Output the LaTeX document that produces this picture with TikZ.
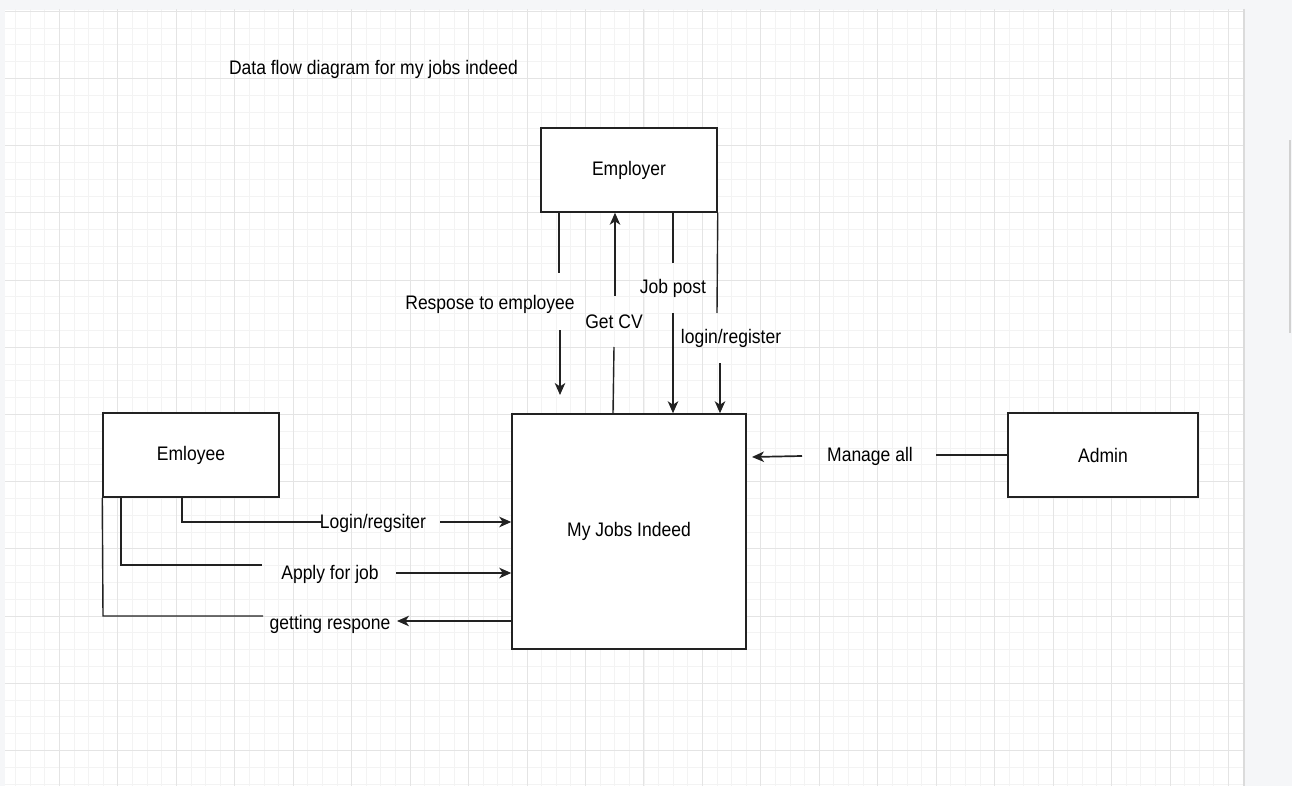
\documentclass[tikz,border=0pt]{standalone}
\usepackage{fontspec}
\setmainfont{Liberation Sans}
\usepackage{graphicx}
\usetikzlibrary{arrows.meta,calc}
\definecolor{gminor}{HTML}{F3F3F3}
\definecolor{gmajor}{HTML}{E4E4E4}
\definecolor{panel}{HTML}{F5F6F8}
\definecolor{ink}{HTML}{222222}
\newcommand\mytxt[1]{\scalebox{1}[1.12]{#1}}
\tikzset{
  boxnode/.style={draw=ink, line width=1.5bp, fill=white, inner sep=0pt,
    font=\fontsize{17.5bp}{20bp}\selectfont},
  lbl/.style={inner sep=1bp, font=\fontsize{17.5bp}{20bp}\selectfont, text=black},
  wire/.style={draw=ink, line width=1.4bp},
  flow/.style={draw=ink, line width=1.7bp, -{Stealth[length=12bp,width=10.5bp,inset=3.5bp]}},
}
\begin{document}
\begin{tikzpicture}[x=1bp,y=-1bp]
\useasboundingbox (0,0) rectangle (1292,786);
% background
\fill[panel] (0,0) rectangle (1292,786);
\fill[white] (5,10) rectangle (1243,786);
\begin{scope}
\clip (5,10) rectangle (1243,786);
\foreach \i in {-4,...,84} {
  \pgfmathsetmacro\xx{round(59+14.6125*\i)+0.5}
  \draw[gminor, line width=1bp] (\xx,0) -- (\xx,786);
}
\foreach \i in {-4,...,44} {
  \pgfmathsetmacro\yy{round(78+16.8*\i)+0.5}
  \draw[gminor, line width=1bp] (0,\yy) -- (1292,\yy);
}
\foreach \i in {-1,...,21} {
  \pgfmathsetmacro\xx{round(59+58.45*\i)+0.5}
  \draw[gmajor, line width=1.6bp] (\xx,0) -- (\xx,786);
}
\foreach \i in {-1,...,11} {
  \pgfmathsetmacro\yy{round(78+67.2*\i)+0.5}
  \draw[gmajor, line width=1.6bp] (0,\yy) -- (1292,\yy);
}
\end{scope}
\draw[black!14, line width=2bp] (1244,9) -- (1244,786);
\draw[black!18, line width=1.5bp] (1290,140) -- (1290,333);

% title
\node[lbl] (title) at (373.5,69) {\mytxt{Data flow diagram for my jobs indeed}};

% boxes
\node[boxnode, minimum width=176bp, minimum height=84bp] (employer) at (629,170) {\mytxt{Employer}};
\node[boxnode, minimum width=176bp, minimum height=84bp] (employee) at (191,455) {\mytxt{Emloyee}};
\node[boxnode, minimum width=234bp, minimum height=235bp] (mji) at (629,531.5) {\mytxt{My Jobs Indeed}};
\node[boxnode, minimum width=190bp, minimum height=84bp] (admin) at (1103,455) {\mytxt{Admin}};

% labels
\node[lbl] (lresp) at (490,304) {\mytxt{Respose to employee}};
\node[lbl] (lcv) at (614,322) {\mytxt{Get CV}};
\node[lbl] (ljob) at (673,288) {\mytxt{Job post}};
\node[lbl] (lreg) at (731,338) {\mytxt{login/register}};
\node[lbl] (llog) at (373,523) {\mytxt{Login/regsiter}};
\node[lbl] (lapply) at (330,574) {\mytxt{Apply for job}};
\node[lbl] (lget) at (330,624) {\mytxt{getting respone}};
\node[lbl] (lman) at (870,456) {\mytxt{Manage all}};

% coordinates
\coordinate (r1) at (559,273);
\coordinate (r2) at (560,330);
\coordinate (r3) at (560,395);
\coordinate (c1) at (614,347);
\coordinate (c2) at (615,296);
\coordinate (j1) at (673,263);
\coordinate (j2) at (673,313);
\coordinate (g1) at (717,313);
\coordinate (g2) at (720,363);
\coordinate (e1) at (182,522);
\coordinate (e2) at (322,522);
\coordinate (e3) at (440,522);
\coordinate (a1) at (121,565);
\coordinate (a2) at (262,565);
\coordinate (a3) at (396,573);
\coordinate (s1) at (103,616);
\coordinate (s2) at (263,616);
\coordinate (s3) at (397,621);
\coordinate (m1) at (936,455);
\coordinate (m2) at (802,456);
\coordinate (m3) at (752,457);

% Employer <-> MJI
\draw[wire] (r1 |- employer.south) -- (r1);
\draw[flow] (r2) -- (r3);
\draw[wire] (613,413) -- (c1);
\draw[flow] (c2) -- (c2 |- employer.south);
\draw[wire] (j1 |- employer.south) -- (j1);
\draw[flow] (j2) -- (j2 |- mji.north);
\draw[wire] (employer.south east) -- (g1);
\draw[flow] (g2) -- (g2 |- mji.north);

% Employee <-> MJI
\draw[wire] (e1 |- employee.south) -- (e1) -- (e2);
\draw[flow] (e3) -- (e3 -| mji.west);
\draw[wire] (a1 |- employee.south) -- (a1) -- (a2);
\draw[flow] (a3) -- (a3 -| mji.west);
\draw[wire] (employee.south west) -- (s1) -- (s2);
\draw[flow] (s3 -| mji.west) -- (s3);

% Admin -> MJI
\draw[wire] (admin.west) -- (m1);
\draw[flow] (m2) -- (m3);
\end{tikzpicture}
\end{document}
